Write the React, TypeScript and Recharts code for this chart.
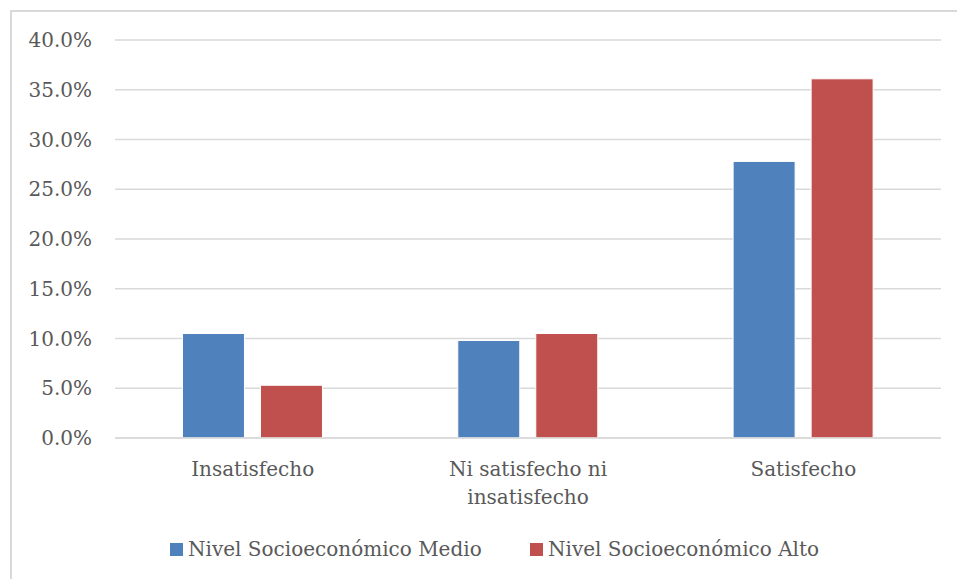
import React from "react";
import { BarChart, Bar, XAxis, YAxis, CartesianGrid } from "recharts";

// Satisfaction level by socioeconomic group (share of respondents)
const categories = ["Insatisfecho", "Ni satisfecho ni insatisfecho", "Satisfecho"];
const medio = [10.5, 9.8, 27.8];
const alto = [5.3, 10.5, 36.1];
const yTicks = [0, 5, 10, 15, 20, 25, 30, 35, 40];

const seriesMedio = "Nivel Socioeconómico Medio";
const seriesAlto = "Nivel Socioeconómico Alto";

const BLUE = "#4F81BD";
const RED = "#C0504D";
const TEXT = "#595959";
const GRID = "#D9D9D9";
const FONT = "DejaVu Serif";
const FONT_SIZE = 20;

const data = categories.map((c, i) => ({ name: c, medio: medio[i], alto: alto[i] }));

// Greedy word wrap so long category names break onto a second line
const wrapLabel = (label: string, maxChars: number): string[] => {
  const lines: string[] = [];
  let current = "";
  for (const word of label.split(" ")) {
    const next = current ? `${current} ${word}` : word;
    if (next.length > maxChars && current) {
      lines.push(current);
      current = word;
    } else {
      current = next;
    }
  }
  if (current) lines.push(current);
  return lines;
};

const CategoryTick = (props: any) => {
  const { x, y, payload } = props;
  const lines = wrapLabel(String(payload.value), 18);
  return (
    <text x={x} y={y} textAnchor="middle" fill={TEXT} fontSize={FONT_SIZE} fontFamily={FONT}>
      {lines.map((line, i) => (
        <tspan key={i} x={x} dy={i === 0 ? 38 : 28}>
          {line}
        </tspan>
      ))}
    </text>
  );
};

// Legend entries: colour swatch followed by the series name
const legendItems = [
  { label: seriesMedio, color: BLUE, x: 170 },
  { label: seriesAlto, color: RED, x: 530 },
];

const ChartLegend = () => (
  <svg width={957} height={40} style={{ position: "absolute", left: 0, top: 530 }}>
    {legendItems.map((item) => (
      <g key={item.label}>
        <rect x={item.x} y={13} width={13} height={13} fill={item.color} />
        <text x={item.x + 18} y={26} fill={TEXT} fontSize={FONT_SIZE} fontFamily={FONT}>
          {item.label}
        </text>
      </g>
    ))}
  </svg>
);

export default function App() {
  return (
    <div style={{ position: "absolute", left: 0, top: 0, width: 957, height: 579, background: "#fff" }}>
      <div
        style={{
          position: "absolute",
          left: 10,
          top: 10,
          right: 0,
          bottom: 0,
          borderTop: `2px solid ${GRID}`,
          borderLeft: `2px solid ${GRID}`,
        }}
      />
      <div style={{ position: "absolute", left: 0, top: 0 }}>
        <BarChart
          width={957}
          height={579}
          data={data}
          margin={{ top: 40, right: 16, left: 0, bottom: 0 }}
          barCategoryGap="24.5%"
          barGap={16}
        >
          <CartesianGrid vertical={false} stroke={GRID} strokeWidth={1.5} />
          <XAxis
            dataKey="name"
            axisLine={{ stroke: GRID, strokeWidth: 1.5 }}
            tickLine={false}
            tickSize={0}
            tickMargin={0}
            interval={0}
            tick={<CategoryTick />}
            height={141}
          />
          <YAxis
            width={115}
            domain={[0, 40]}
            ticks={yTicks}
            interval={0}
            axisLine={false}
            tickLine={false}
            tickSize={0}
            tickMargin={23}
            tickFormatter={(v: number) => `${v.toFixed(1)}%`}
            tick={{ fill: TEXT, fontSize: FONT_SIZE, fontFamily: FONT }}
          />
          <Bar dataKey="medio" name={seriesMedio} fill={BLUE} stroke="#fff" strokeWidth={1} isAnimationActive={false} />
          <Bar dataKey="alto" name={seriesAlto} fill={RED} stroke="#fff" strokeWidth={1} isAnimationActive={false} />
        </BarChart>
      </div>
      <ChartLegend />
    </div>
  );
}
